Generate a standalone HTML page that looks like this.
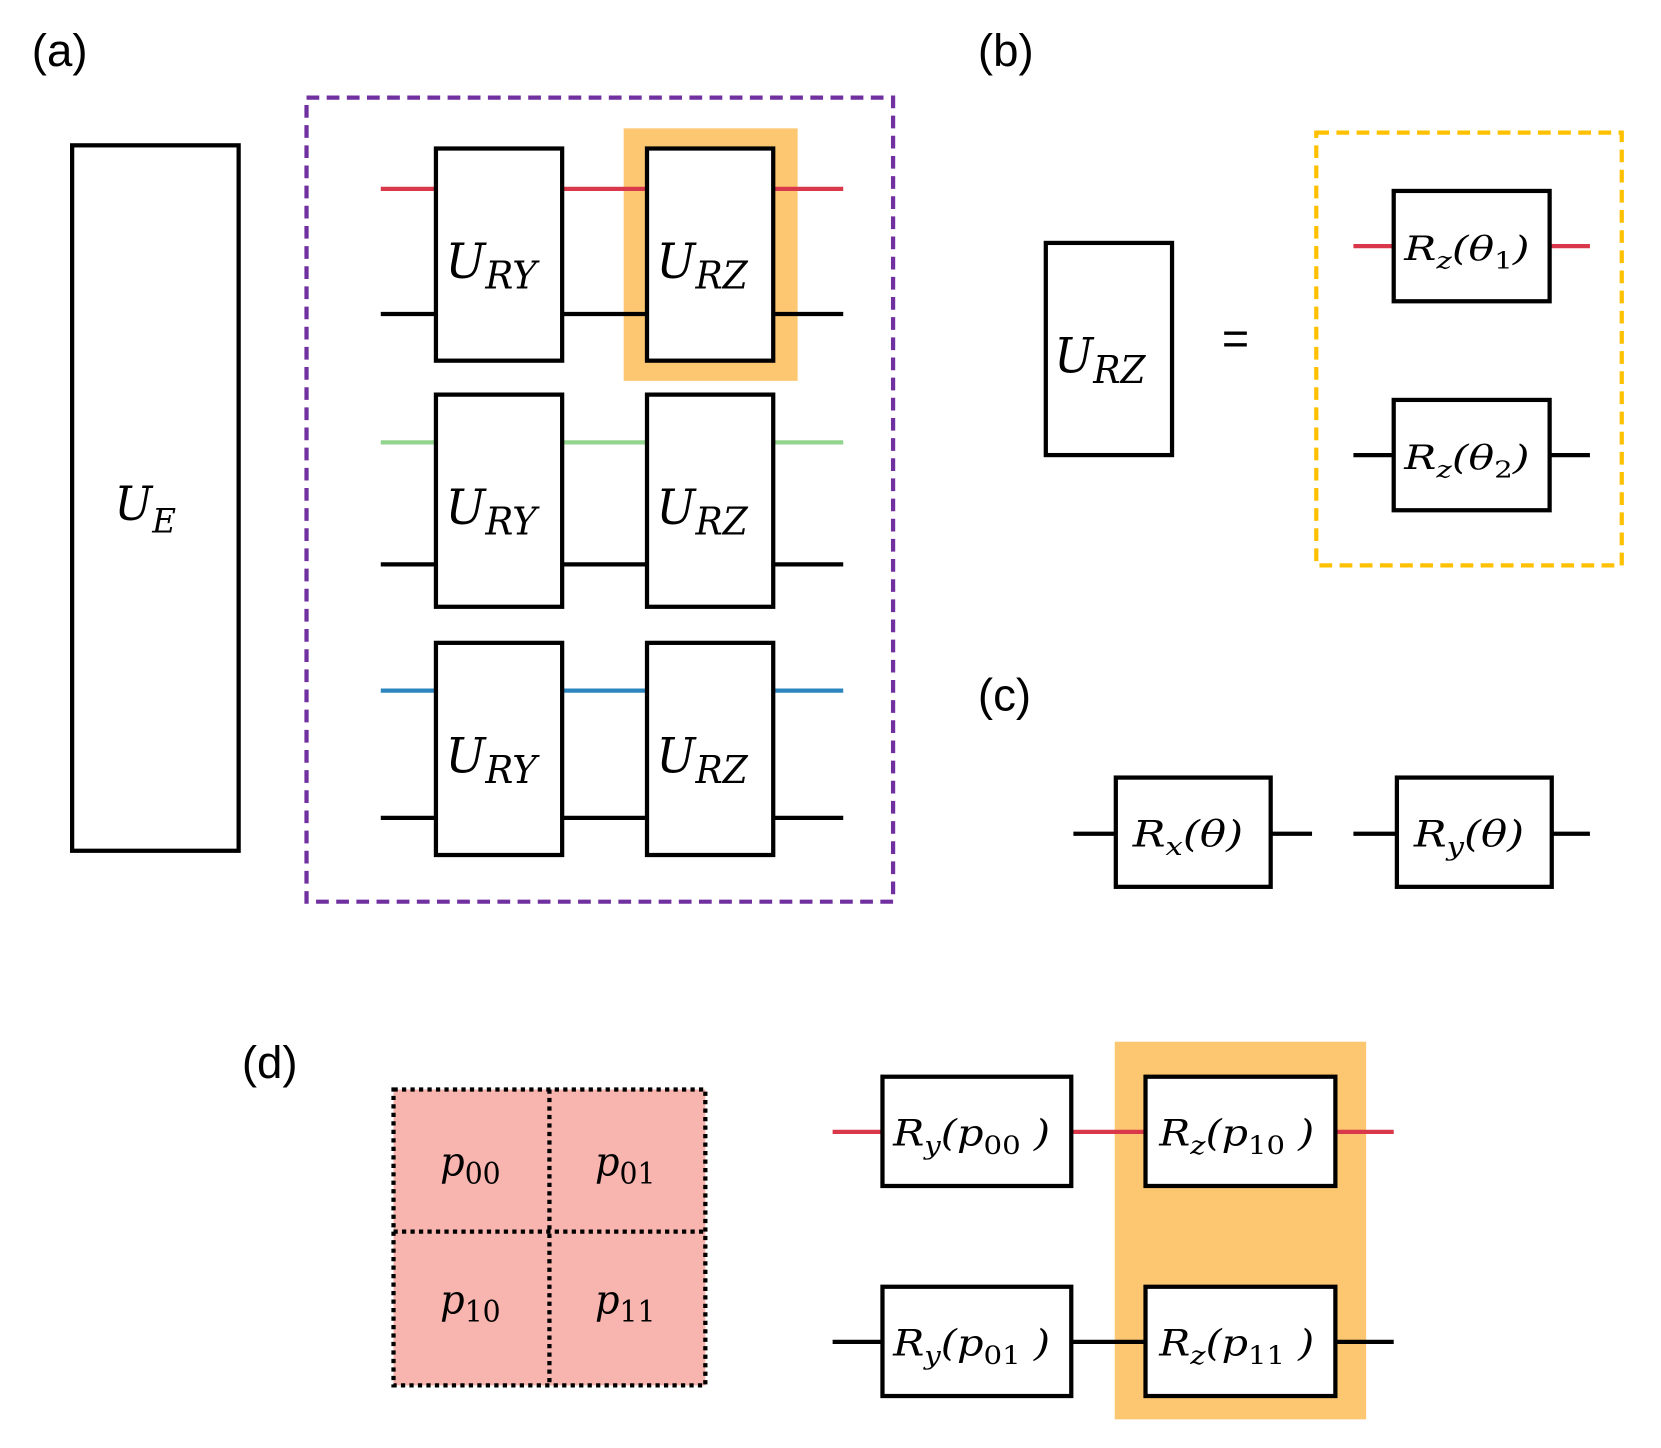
<!DOCTYPE html>
<html><head><style>html,body{margin:0;padding:0;background:#fff}svg{display:block}</style></head>
<body>
<svg width="1661" height="1448" viewBox="0 0 1566 1365" preserveAspectRatio="none" xmlns="http://www.w3.org/2000/svg">
<style>
.lab{font-family:"Liberation Sans",sans-serif;font-size:43px;fill:#000}
.m{font-family:"DejaVu Serif","Liberation Serif",serif;font-style:italic;fill:#000}
.b{fill:#fff;stroke:#000;stroke-width:4}
</style>
<text class="lab" x="30" y="62">(a)</text>
<text class="lab" x="922" y="62">(b)</text>
<text class="lab" x="922" y="670">(c)</text>
<text class="lab" x="228" y="1016">(d)</text>

<!-- (a) -->
<rect class="b" x="68" y="137" width="157" height="665"/>
<text class="m" x="108" y="490" font-size="44" textLength="58" lengthAdjust="spacingAndGlyphs">U<tspan font-size="32" dy="12">E</tspan></text>
<rect x="289" y="92" width="553" height="758" fill="none" stroke="#7030a0" stroke-width="4" stroke-dasharray="12,7"/>
<rect x="588" y="121" width="164" height="238" fill="#fdc670"/>
<g stroke-width="4">
<line x1="359" y1="178" x2="795" y2="178" stroke="#d9384a"/>
<line x1="359" y1="296" x2="795" y2="296" stroke="#000"/>
<line x1="359" y1="417" x2="795" y2="417" stroke="#93d58e"/>
<line x1="359" y1="532" x2="795" y2="532" stroke="#000"/>
<line x1="359" y1="651" x2="795" y2="651" stroke="#2e86c1"/>
<line x1="359" y1="771" x2="795" y2="771" stroke="#000"/>
</g>
<g>
<rect class="b" x="411" y="140" width="119" height="200"/>
<rect class="b" x="610" y="140" width="119" height="200"/>
<rect class="b" x="411" y="372" width="119" height="200"/>
<rect class="b" x="610" y="372" width="119" height="200"/>
<rect class="b" x="411" y="606" width="119" height="200"/>
<rect class="b" x="610" y="606" width="119" height="200"/>
</g>
<g font-size="46">
<text class="m" x="420" y="262" textLength="86" lengthAdjust="spacingAndGlyphs">U<tspan font-size="36" dy="10">RY</tspan></text>
<text class="m" x="619" y="262" textLength="86" lengthAdjust="spacingAndGlyphs">U<tspan font-size="36" dy="10">RZ</tspan></text>
<text class="m" x="420" y="494" textLength="86" lengthAdjust="spacingAndGlyphs">U<tspan font-size="36" dy="10">RY</tspan></text>
<text class="m" x="619" y="494" textLength="86" lengthAdjust="spacingAndGlyphs">U<tspan font-size="36" dy="10">RZ</tspan></text>
<text class="m" x="420" y="728" textLength="86" lengthAdjust="spacingAndGlyphs">U<tspan font-size="36" dy="10">RY</tspan></text>
<text class="m" x="619" y="728" textLength="86" lengthAdjust="spacingAndGlyphs">U<tspan font-size="36" dy="10">RZ</tspan></text>
</g>

<!-- (b) -->
<rect class="b" x="986" y="229" width="119" height="200"/>
<text class="m" x="994" y="351" font-size="46" textLength="86" lengthAdjust="spacingAndGlyphs">U<tspan font-size="36" dy="10">RZ</tspan></text>
<text x="1152" y="334" font-family="Liberation Sans,sans-serif" font-size="44">=</text>
<rect x="1241" y="125" width="288" height="408" fill="none" stroke="#ffc000" stroke-width="4" stroke-dasharray="12,7"/>
<line x1="1276" y1="232" x2="1499" y2="232" stroke="#d9384a" stroke-width="4"/>
<line x1="1276" y1="429" x2="1499" y2="429" stroke="#000" stroke-width="4"/>
<rect class="b" x="1314" y="180" width="147" height="104"/>
<rect class="b" x="1314" y="377" width="147" height="104"/>
<text class="m" x="1324" y="245" font-size="32" textLength="118" lengthAdjust="spacingAndGlyphs">R<tspan font-size="22" dy="8">z</tspan><tspan dy="-8">(θ</tspan><tspan font-size="22" dy="8" font-style="normal">1</tspan><tspan dy="-8">)</tspan></text>
<text class="m" x="1324" y="442" font-size="32" textLength="118" lengthAdjust="spacingAndGlyphs">R<tspan font-size="22" dy="8">z</tspan><tspan dy="-8">(θ</tspan><tspan font-size="22" dy="8" font-style="normal">2</tspan><tspan dy="-8">)</tspan></text>

<!-- (c) -->
<line x1="1012" y1="786" x2="1237" y2="786" stroke="#000" stroke-width="4"/>
<line x1="1276" y1="786" x2="1499" y2="786" stroke="#000" stroke-width="4"/>
<rect class="b" x="1052" y="733" width="146" height="103"/>
<rect class="b" x="1317" y="733" width="146" height="103"/>
<text class="m" x="1068" y="798" font-size="34" textLength="104" lengthAdjust="spacingAndGlyphs">R<tspan font-size="24" dy="8">x</tspan><tspan dy="-8">(θ)</tspan></text>
<text class="m" x="1333" y="798" font-size="34" textLength="104" lengthAdjust="spacingAndGlyphs">R<tspan font-size="24" dy="8">y</tspan><tspan dy="-8">(θ)</tspan></text>

<!-- (d) -->
<rect x="371" y="1027" width="294" height="279" fill="#f8b4ae"/>
<g fill="none" stroke="#000" stroke-width="4" stroke-dasharray="4,4">
<rect x="371" y="1027" width="294" height="279"/>
<line x1="518" y1="1027" x2="518" y2="1306"/>
<line x1="371" y1="1161" x2="665" y2="1161"/>
</g>
<g font-size="38">
<text class="m" x="415" y="1108" textLength="57" lengthAdjust="spacingAndGlyphs">p<tspan font-size="28" dy="8" font-style="normal">00</tspan></text>
<text class="m" x="561" y="1108" textLength="57" lengthAdjust="spacingAndGlyphs">p<tspan font-size="28" dy="8" font-style="normal">01</tspan></text>
<text class="m" x="415" y="1238" textLength="57" lengthAdjust="spacingAndGlyphs">p<tspan font-size="28" dy="8" font-style="normal">10</tspan></text>
<text class="m" x="561" y="1238" textLength="57" lengthAdjust="spacingAndGlyphs">p<tspan font-size="28" dy="8" font-style="normal">11</tspan></text>
</g>
<rect x="1051" y="982" width="237" height="356" fill="#fdc670"/>
<line x1="785" y1="1067" x2="1314" y2="1067" stroke="#d9384a" stroke-width="4"/>
<line x1="785" y1="1265" x2="1314" y2="1265" stroke="#000" stroke-width="4"/>
<rect class="b" x="832" y="1015" width="178" height="103"/>
<rect class="b" x="1080" y="1015" width="179" height="103"/>
<rect class="b" x="832" y="1213" width="178" height="103"/>
<rect class="b" x="1080" y="1213" width="179" height="103"/>
<g font-size="34">
<text class="m" x="842" y="1080" textLength="148" lengthAdjust="spacingAndGlyphs">R<tspan font-size="24" dy="8">y</tspan><tspan dy="-8">(p</tspan><tspan font-size="24" dy="8" font-style="normal">00</tspan><tspan dy="-8"> )</tspan></text>
<text class="m" x="1093" y="1080" textLength="146" lengthAdjust="spacingAndGlyphs">R<tspan font-size="24" dy="8">z</tspan><tspan dy="-8">(p</tspan><tspan font-size="24" dy="8" font-style="normal">10</tspan><tspan dy="-8"> )</tspan></text>
<text class="m" x="842" y="1278" textLength="148" lengthAdjust="spacingAndGlyphs">R<tspan font-size="24" dy="8">y</tspan><tspan dy="-8">(p</tspan><tspan font-size="24" dy="8" font-style="normal">01</tspan><tspan dy="-8"> )</tspan></text>
<text class="m" x="1093" y="1278" textLength="146" lengthAdjust="spacingAndGlyphs">R<tspan font-size="24" dy="8">z</tspan><tspan dy="-8">(p</tspan><tspan font-size="24" dy="8" font-style="normal">11</tspan><tspan dy="-8"> )</tspan></text>
</g>
</svg>
</body></html>
